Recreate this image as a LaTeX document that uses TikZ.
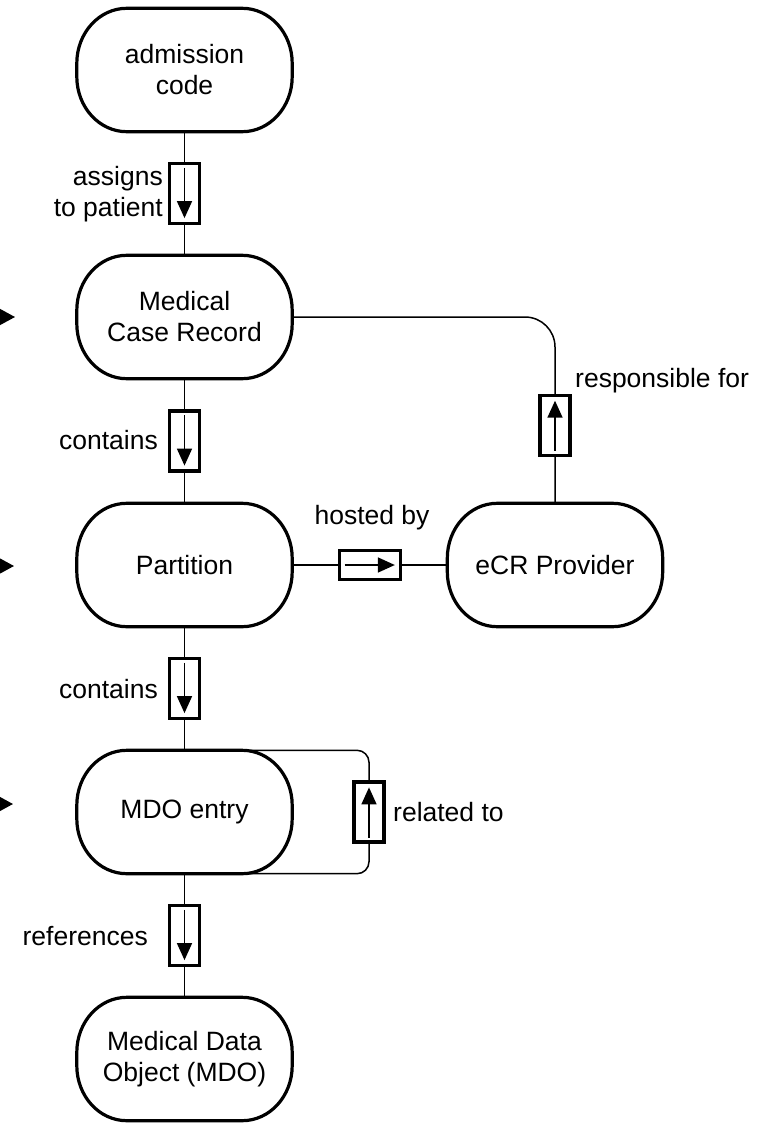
\documentclass[tikz,border=0pt]{standalone}
\usepackage{fontspec}
\setmainfont{Liberation Sans}
\usetikzlibrary{arrows.meta,calc}
\newcommand\drawent[1]{%
  \draw[entline] ($(#1.north west)+(50,0)$) -- ($(#1.north east)+(-50,0)$)
    arc[start angle=90,end angle=0,x radius=50pt,y radius=55pt]
    -- ($(#1.south east)+(0,-55)$)
    arc[start angle=0,end angle=-90,x radius=50pt,y radius=55pt]
    -- ($(#1.south west)+(50,0)$)
    arc[start angle=-90,end angle=-180,x radius=50pt,y radius=55pt]
    -- ($(#1.north west)+(0,55)$)
    arc[start angle=180,end angle=90,x radius=50pt,y radius=55pt] -- cycle;}
\begin{document}
\begin{tikzpicture}[x=1pt,y=-1pt,
  ent/.style={minimum width=215pt,minimum height=123pt,align=center,font=\fontsize{26.5}{31}\selectfont,inner sep=0pt},
  entline/.style={line width=3.2pt},
  relv/.style={draw,line width=3.2pt,fill=white,minimum width=30pt,minimum height=60pt,inner sep=0pt},
  relh/.style={draw,line width=3.2pt,fill=white,minimum width=61pt,minimum height=29pt,inner sep=0pt},
  conn/.style={line width=1.5pt},
  dir/.style={line width=1.6pt,-{Triangle[length=17pt,width=15pt]}},
  ext/.style={line width=1.5pt,-{Triangle[length=16pt,width=17pt]}},
  lbl/.style={font=\fontsize{26.5}{31}\selectfont,align=right,inner sep=0pt},
]
\useasboundingbox (0,0) rectangle (768,1124);

% entities
\node[ent] (adm)  at (184.5,70)   {admission\\code};
\node[ent] (mcr)  at (184.5,317)  {Medical\\Case Record};
\node[ent] (part) at (184.5,565)  {Partition};
\node[ent] (ecr)  at (555,565)    {eCR Provider};
\node[ent] (mdoe) at (184.5,812)  {MDO entry};
\node[ent] (mdo)  at (184.5,1059) {Medical Data\\Object (MDO)};
\drawent{adm}
\drawent{mcr}
\drawent{part}
\drawent{ecr}
\drawent{mdoe}
\drawent{mdo}

% assigns to patient
\draw[conn] (adm.south) -- (mcr.north);
\node[relv] (r1) at ($(adm.south)!0.5!(mcr.north)$) {};
\draw[dir] ([yshift=-6pt]r1.north) -- ([yshift=7pt]r1.south);
\node[lbl,anchor=east] (l1) at (163,194) {assigns\\to patient};

% contains (1)
\draw[conn] (mcr.south) -- (part.north);
\node[relv] (r2) at ($(mcr.south)!0.5!(part.north)$) {};
\draw[dir] ([yshift=-6pt]r2.north) -- ([yshift=7pt]r2.south);
\node[lbl,anchor=east] (l2) at (158,440) {contains};

% contains (2)
\draw[conn] (part.south) -- (mdoe.north);
\node[relv] (r3) at ($(part.south)!0.5!(mdoe.north)$) {};
\draw[dir] ([yshift=-6pt]r3.north) -- ([yshift=7pt]r3.south);
\node[lbl,anchor=east] (l3) at (158,689) {contains};

% references
\draw[conn] (mdoe.south) -- (mdo.north);
\node[relv] (r4) at ($(mdoe.south)!0.5!(mdo.north)$) {};
\draw[dir] ([yshift=-6pt]r4.north) -- ([yshift=7pt]r4.south);
\node[lbl,anchor=east] (l4) at (148,936) {references};

% hosted by
\draw[conn] (part.east) -- (ecr.west);
\node[relh] (r5) at ($(part.east)!0.5!(ecr.west)$) {};
\draw[dir] ([xshift=7pt]r5.west) -- ([xshift=-7pt]r5.east);
\node[lbl] (l5) at (372,518) {hosted by};

% responsible for
\draw[conn,rounded corners=30pt] (ecr.north) |- (mcr.east);
\node[relv] (r6) at ($(ecr.north)+(0,-78)$) {};
\draw[dir] ([yshift=6pt]r6.south) -- ([yshift=-7pt]r6.north);
\node[lbl,anchor=west] (l6) at (575,381) {responsible for};

% related to (self loop)
\draw[conn,rounded corners=12pt] (mdoe.north) -- ++(184.5,0) |- (mdoe.south);
\node[relv] (r7) at ($(mdoe.center)+(184.5,0)$) {};
\draw[dir] ([yshift=6pt]r7.south) -- ([yshift=-7pt]r7.north);
\node[lbl,anchor=west] (l7) at (393,812) {related to};

% incoming arrows from the left edge
\coordinate (in1) at (-40,317);  \coordinate (tip1) at (15,317);
\coordinate (in2) at (-40,566);  \coordinate (tip2) at (14,566);
\coordinate (in3) at (-40,804);  \coordinate (tip3) at (13,804);
\draw[ext] (in1) -- (tip1);
\draw[ext] (in2) -- (tip2);
\draw[ext] (in3) -- (tip3);
\end{tikzpicture}
\end{document}
